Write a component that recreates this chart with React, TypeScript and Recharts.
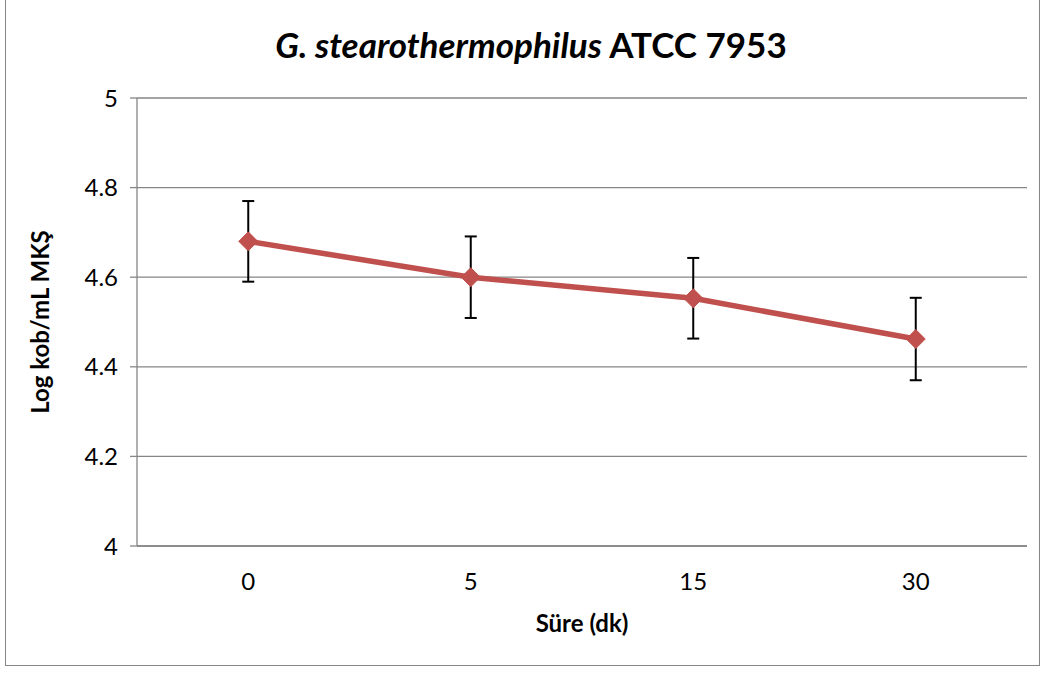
import { LineChart, Line, XAxis, YAxis, CartesianGrid, ErrorBar } from "recharts";

const times = ["0", "5", "15", "30"];
const logCounts = [4.68, 4.6, 4.553, 4.462];
const errors = [0.09, 0.091, 0.09, 0.092];
const yTicks = [4, 4.2, 4.4, 4.6, 4.8, 5];

const data = times.map((t, i) => ({ time: t, value: logCounts[i], err: errors[i] }));

const font = "Lato, 'Open Sans', sans-serif";
const red = "#C0504D";
const grey = "#868686";

const Diamond = (props: any) => {
  const { cx, cy } = props;
  if (cx == null || cy == null) return null;
  const s = 9.5;
  return (
    <polygon
      points={`${cx},${cy - s} ${cx + s},${cy} ${cx},${cy + s} ${cx - s},${cy}`}
      fill={red}
      stroke={red}
    />
  );
};

export default function App() {
  return (
    <div style={{ position: "fixed", left: 0, top: 0, width: 1045, height: 674, background: "#fff", fontFamily: font }}>
      <div style={{ position: "absolute", left: 5, top: -2, width: 1035, height: 668, border: `1.5px solid ${grey}`, boxSizing: "border-box" }} />
      <LineChart
        width={1045}
        height={674}
        data={data}
        margin={{ top: 98, right: 18, left: 0, bottom: 0 }}
        style={{ position: "absolute", left: 0, top: 0 }}
      >
        <text x={531} y={58} textAnchor="middle" fontFamily={font} fontSize={35} fontWeight="bold" fill="#000">
          <tspan fontStyle="italic">G. stearothermophilus</tspan>
          <tspan> ATCC 7953</tspan>
        </text>
        <CartesianGrid vertical={false} stroke={grey} strokeWidth={1.3} />
        <XAxis
          dataKey="time"
          scale="band"
          height={128}
          axisLine={{ stroke: grey, strokeWidth: 1.3 }}
          tickLine={false}
          tick={{ fill: "#000", fontSize: 24, fontFamily: font }}
          dy={19}
          label={{ value: "Süre (dk)", position: "insideBottom", offset: 0, dy: -42, fill: "#000", fontSize: 24, fontWeight: "bold", fontFamily: font }}
        />
        <YAxis
          domain={[4, 5]}
          ticks={yTicks}
          width={137}
          axisLine={{ stroke: grey, strokeWidth: 1.3 }}
          tickLine={{ stroke: grey, strokeWidth: 1.3 }}
          tickSize={7}
          tick={{ fill: "#000", fontSize: 24, fontFamily: font }}
          dx={-10}
          tickFormatter={(v: number) => String(Number(v.toFixed(1)))}
          label={{ value: "Log kob/mL MKŞ", angle: -90, position: "insideLeft", dx: 35, fill: "#000", fontSize: 24, fontWeight: "bold", fontFamily: font, style: { textAnchor: "middle" } }}
        />
        <Line
          type="linear"
          dataKey="value"
          stroke={red}
          strokeWidth={5.5}
          dot={<Diamond />}
          activeDot={false}
          isAnimationActive={false}
        >
          <ErrorBar dataKey="err" direction="y" width={6} stroke="#000" strokeWidth={2} />
        </Line>
      </LineChart>
    </div>
  );
}
